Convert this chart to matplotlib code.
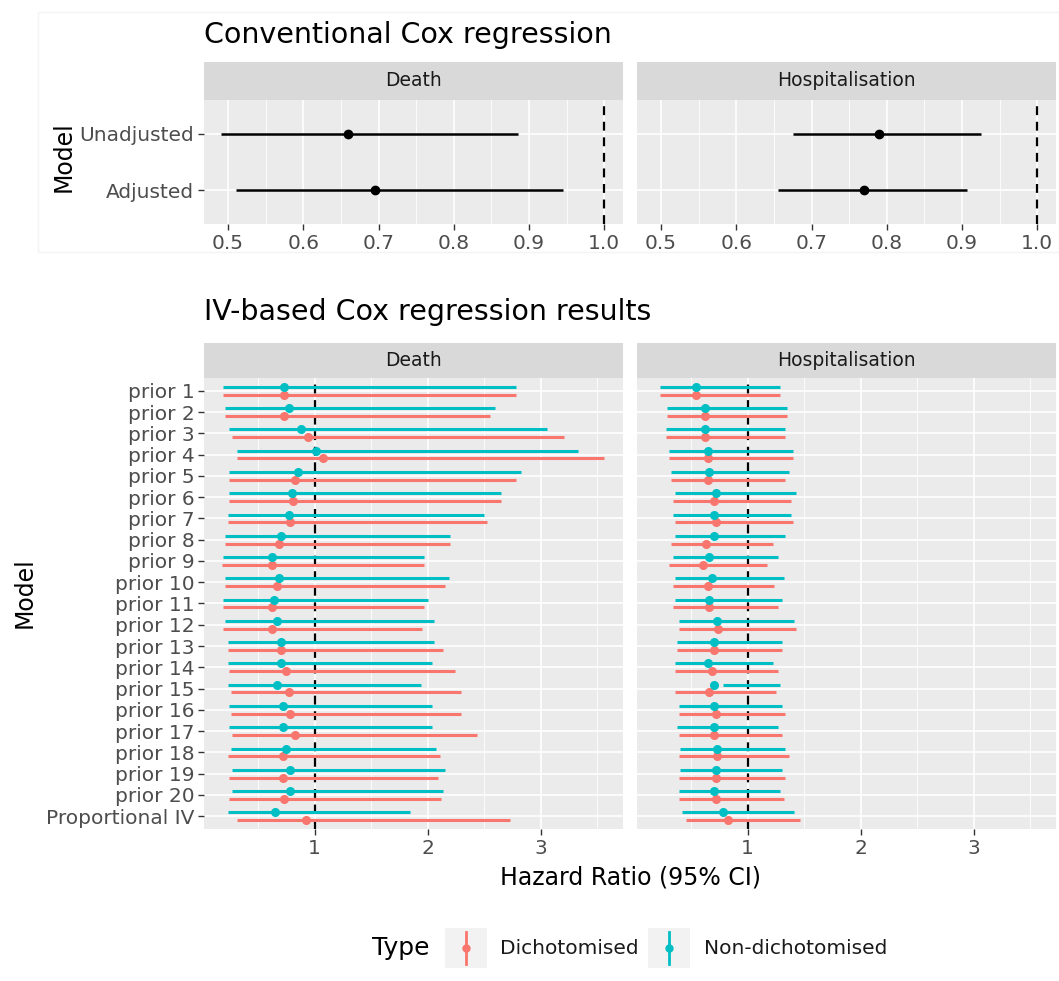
import numpy as np
import matplotlib
matplotlib.use("Agg")
import matplotlib.pyplot as plt
from matplotlib.patches import Rectangle

plt.rcParams['font.family'] = ['DejaVu Sans']

W, H = 1059, 981

outcomes = ["Death", "Hospitalisation"]
types = ["Dichotomised", "Non-dichotomised"]
type_colors = ["#F8766D", "#00BFC4"]

# conventional cox regression
conv_models = ["Unadjusted", "Adjusted"]
conv_death_hr = [0.66, 0.695]
conv_death_lo = [0.49, 0.51]
conv_death_hi = [0.885, 0.945]
conv_hosp_hr = [0.79, 0.77]
conv_hosp_lo = [0.675, 0.656]
conv_hosp_hi = [0.925, 0.907]

# IV-based cox regression
iv_models = ["prior 1", "prior 2", "prior 3", "prior 4", "prior 5", "prior 6",
             "prior 7", "prior 8", "prior 9", "prior 10", "prior 11", "prior 12",
             "prior 13", "prior 14", "prior 15", "prior 16", "prior 17",
             "prior 18", "prior 19", "prior 20", "Proportional IV"]

death_dich_hr = [0.73, 0.73, 0.94, 1.07, 0.83, 0.81, 0.78, 0.68, 0.62, 0.67, 0.62,
                 0.62, 0.70, 0.75, 0.77, 0.78, 0.83, 0.72, 0.72, 0.73, 0.92]
death_dich_lo = [0.19, 0.21, 0.27, 0.31, 0.24, 0.24, 0.23, 0.21, 0.18, 0.21, 0.19,
                 0.19, 0.23, 0.24, 0.26, 0.26, 0.27, 0.23, 0.24, 0.24, 0.31]
death_dich_hi = [2.78, 2.55, 3.21, 3.56, 2.78, 2.65, 2.53, 2.20, 1.97, 2.15, 1.97,
                 1.95, 2.14, 2.24, 2.30, 2.30, 2.44, 2.11, 2.09, 2.12, 2.73]
death_cont_hr = [0.73, 0.77, 0.88, 1.01, 0.85, 0.80, 0.77, 0.70, 0.62, 0.68, 0.64,
                 0.67, 0.70, 0.70, 0.67, 0.72, 0.72, 0.75, 0.78, 0.78, 0.65]
death_cont_lo = [0.19, 0.21, 0.24, 0.31, 0.24, 0.24, 0.23, 0.21, 0.19, 0.21, 0.19,
                 0.21, 0.23, 0.23, 0.23, 0.24, 0.24, 0.26, 0.27, 0.27, 0.23]
death_cont_hi = [2.78, 2.60, 3.06, 3.33, 2.83, 2.65, 2.50, 2.20, 1.97, 2.19, 2.00,
                 2.06, 2.06, 2.04, 1.94, 2.04, 2.04, 2.07, 2.15, 2.14, 1.84]

hosp_dich_hr = [0.54, 0.62, 0.62, 0.65, 0.65, 0.70, 0.72, 0.63, 0.60, 0.65, 0.66,
                0.74, 0.70, 0.68, 0.66, 0.72, 0.70, 0.73, 0.72, 0.72, 0.83]
hosp_dich_lo = [0.22, 0.29, 0.28, 0.30, 0.32, 0.34, 0.36, 0.32, 0.30, 0.34, 0.34,
                0.39, 0.37, 0.36, 0.36, 0.39, 0.39, 0.39, 0.39, 0.39, 0.45]
hosp_dich_hi = [1.29, 1.35, 1.33, 1.40, 1.33, 1.38, 1.40, 1.22, 1.17, 1.23, 1.27,
                1.43, 1.30, 1.27, 1.25, 1.33, 1.30, 1.37, 1.33, 1.32, 1.46]
hosp_cont_hr = [0.54, 0.62, 0.62, 0.65, 0.66, 0.72, 0.70, 0.70, 0.66, 0.68, 0.66,
                0.73, 0.70, 0.65, 0.70, 0.70, 0.70, 0.73, 0.72, 0.70, 0.78]
hosp_cont_lo = [0.22, 0.29, 0.28, 0.30, 0.32, 0.36, 0.34, 0.36, 0.34, 0.36, 0.36,
                0.39, 0.37, 0.36, 0.78, 0.39, 0.37, 0.40, 0.40, 0.39, 0.42]
hosp_cont_hi = [1.29, 1.35, 1.33, 1.40, 1.37, 1.43, 1.38, 1.33, 1.27, 1.32, 1.30,
                1.41, 1.30, 1.22, 1.29, 1.30, 1.27, 1.33, 1.30, 1.29, 1.41]


def rect(x0, y0, x1, y1):
    # pixel box (top-left origin) -> figure fraction
    return [x0 / W, 1 - y1 / H, (x1 - x0) / W, (y1 - y0) / H]


def panel(box, xlim, xmajor, xminor, labels, show_y):
    ax = fig.add_axes(rect(*box))
    ax.set_facecolor("#EBEBEB")
    for s in ax.spines.values():
        s.set_visible(False)
    ax.set_xlim(*xlim)
    ax.set_xticks(xmajor)
    ax.set_xticks(xminor, minor=True)
    n = len(labels)
    ax.set_yticks(np.arange(n))
    ax.set_ylim(n - 1 + 0.6, -0.6)
    ax.set_yticklabels(labels if show_y else [])
    ax.grid(which="major", color="white", lw=1.2)
    ax.grid(which="minor", axis="x", color="white", lw=0.6)
    ax.set_axisbelow(True)
    ax.tick_params(which="major", length=4, width=1, color="#333333",
                   labelcolor="#4D4D4D", labelsize=14.5, pad=3)
    ax.tick_params(which="minor", length=0)
    if not show_y:
        ax.tick_params(axis="y", length=0)
    ax.axvline(1, color="black", lw=1.6, ls=(0, (4, 3)), zorder=1.5)
    return ax


def strip(box, text):
    ax = fig.add_axes(rect(*box))
    ax.set_facecolor("#D9D9D9")
    for s in ax.spines.values():
        s.set_visible(False)
    ax.set_xticks([])
    ax.set_yticks([])
    ax.text(0.5, 0.5, text, ha="center", va="center", fontsize=13.5,
            color="#1A1A1A", transform=ax.transAxes)


fig = plt.figure(figsize=(W / 100, H / 100), dpi=100)

# faint frame around the top block
bg = fig.add_axes([0, 0, 1, 1], zorder=-2)
bg.set_xlim(0, W)
bg.set_ylim(H, 0)
bg.axis("off")
bg.add_patch(Rectangle((38, 12), W - 38, 240, facecolor="none",
                       edgecolor="#F4F4F4", lw=1))

# ---- top: conventional ----
fig.text(204 / W, 1 - 35 / H, "Conventional Cox regression", fontsize=20.5,
         ha="left", va="center", color="black")
top_x = [(204, 623), (637, 1056)]
conv = [(conv_death_hr, conv_death_lo, conv_death_hi),
        (conv_hosp_hr, conv_hosp_lo, conv_hosp_hi)]
for i, (x0, x1) in enumerate(top_x):
    strip((x0, 62, x1, 100), outcomes[i])
    ax = panel((x0, 100, x1, 224), (0.468, 1.025),
               [0.5, 0.6, 0.7, 0.8, 0.9, 1.0], [0.55, 0.65, 0.75, 0.85, 0.95],
               conv_models, i == 0)
    ax.set_xticklabels(["0.5", "0.6", "0.7", "0.8", "0.9", "1.0"])
    hr, lo, hi = conv[i]
    y = np.arange(len(conv_models))
    ax.hlines(y, lo, hi, color="black", lw=1.8, zorder=3)
    ax.plot(hr, y, "o", color="black", ms=6, zorder=4)
fig.text(64 / W, 1 - 157 / H, "Model", rotation=90, fontsize=17,
         ha="center", va="center")

# ---- bottom: IV-based ----
fig.text(204 / W, 1 - 312 / H, "IV-based Cox regression results", fontsize=20.5,
         ha="left", va="center", color="black")
iv = [[(death_dich_hr, death_dich_lo, death_dich_hi),
       (death_cont_hr, death_cont_lo, death_cont_hi)],
      [(hosp_dich_hr, hosp_dich_lo, hosp_dich_hi),
       (hosp_cont_hr, hosp_cont_lo, hosp_cont_hi)]]
offsets = [0.18, -0.18]
for i, (x0, x1) in enumerate(top_x):
    strip((x0, 343, x1, 378), outcomes[i])
    ax = panel((x0, 378, x1, 829), (0.02, 3.73), [1, 2, 3],
               [0.5, 1.5, 2.5, 3.5], iv_models, i == 0)
    ax.set_xticklabels(["1", "2", "3"])
    y = np.arange(len(iv_models))
    for k, (hr, lo, hi) in enumerate(iv[i]):
        ax.hlines(y + offsets[k], lo, hi, color=type_colors[k], lw=2.2, zorder=3)
        ax.plot(hr, y + offsets[k], "o", color=type_colors[k], ms=5.5, zorder=4)
fig.text(630 / W, 1 - 878 / H, "Hazard Ratio (95% CI)", fontsize=17,
         ha="center", va="center")
fig.text(25 / W, 1 - 593 / H, "Model", rotation=90, fontsize=17,
         ha="center", va="center")

# ---- legend ----
lg = fig.add_axes([0, 0, 1, 1], zorder=-1)
lg.set_xlim(0, W)
lg.set_ylim(H, 0)
lg.axis("off")
lg.text(372, 948, "Type", fontsize=18, ha="left", va="center")
key_x = [445, 648]
text_x = [500, 704]
for k in range(2):
    lg.add_patch(Rectangle((key_x[k], 928), 42, 40, facecolor="#F2F2F2",
                           edgecolor="none"))
    cx = key_x[k] + 21
    lg.plot([cx, cx], [932, 964], color=type_colors[k], lw=2)
    lg.plot(cx, 948, "o", color=type_colors[k], ms=5)
    lg.text(text_x[k], 948, types[k], fontsize=14.5, ha="left", va="center",
            color="#1A1A1A")

fig.savefig("out.png", dpi=100)
